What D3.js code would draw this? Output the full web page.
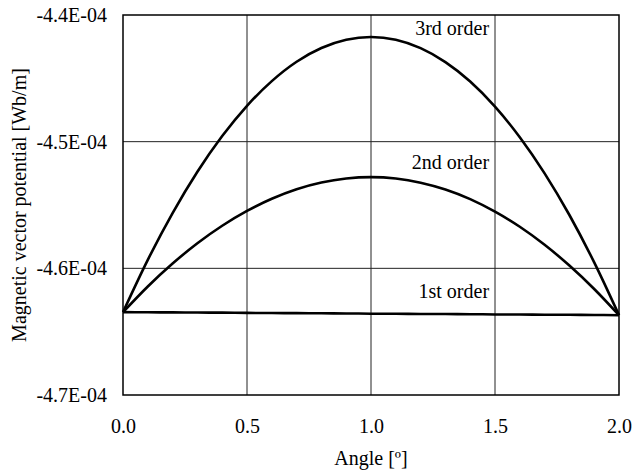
<!DOCTYPE html>
<html>
<head>
<meta charset="utf-8">
<script src="https://cdn.jsdelivr.net/npm/d3@7"></script>
<style>
  body { margin: 0; background: #fff; }
</style>
</head>
<body>
<svg id="svg" width="633" height="472"></svg>
<script>
const WIDTH = 633
const HEIGHT = 472
const MARGIN = { top: 15, right: 14, bottom: 77, left: 123 }
const FONT = 'Liberation Serif'

// angle [deg]
const angles = [0.0, 0.1, 0.2, 0.3, 0.4, 0.5, 0.6, 0.7, 0.8, 0.9, 1.0,
  1.1, 1.2, 1.3, 1.4, 1.5, 1.6, 1.7, 1.8, 1.9, 2.0]

// magnetic vector potential [Wb/m]
const first = [-4.6346e-4, -4.6347e-4, -4.6348e-4, -4.6349e-4, -4.6350e-4, -4.6352e-4, -4.6353e-4,
  -4.6354e-4, -4.6355e-4, -4.6356e-4, -4.6358e-4, -4.6359e-4, -4.6360e-4, -4.6361e-4, -4.6362e-4,
  -4.6364e-4, -4.6365e-4, -4.6366e-4, -4.6367e-4, -4.6368e-4, -4.6370e-4]
const second = [-4.6346e-4, -4.6143e-4, -4.5962e-4, -4.5802e-4, -4.5664e-4, -4.5547e-4, -4.5451e-4,
  -4.5376e-4, -4.5323e-4, -4.5291e-4, -4.5280e-4, -4.5291e-4, -4.5324e-4, -4.5378e-4, -4.5454e-4,
  -4.5553e-4, -4.5672e-4, -4.5814e-4, -4.5978e-4, -4.6163e-4, -4.6370e-4]
const third = [-4.6346e-4, -4.5933e-4, -4.5564e-4, -4.5238e-4, -4.4956e-4, -4.4717e-4, -4.4522e-4,
  -4.4369e-4, -4.4261e-4, -4.4196e-4, -4.4174e-4, -4.4196e-4, -4.4262e-4, -4.4372e-4, -4.4525e-4,
  -4.4723e-4, -4.4965e-4, -4.5250e-4, -4.5579e-4, -4.5953e-4, -4.6370e-4]

const seriesNames = ['1st order', '2nd order', '3rd order']
const seriesValues = [first, second, third]

const xTicks = [0, 0.5, 1.0, 1.5, 2.0]
const yTicks = [-4.7e-4, -4.6e-4, -4.5e-4, -4.4e-4]

const SVG = d3.select('#svg')

const x = d3.scaleLinear()
  .domain([0, 2])
  .range([MARGIN.left, WIDTH - MARGIN.right])

const y = d3.scaleLinear()
  .domain([-4.7e-4, -4.4e-4])
  .range([HEIGHT - MARGIN.bottom, MARGIN.top])

// e.g. -4.4E-04
const sciFormat = v => {
  const [m, e] = v.toExponential(1).toUpperCase().split('E')
  const sign = e[0] === '-' ? '-' : '+'
  const digits = e.replace(/[+-]/, '').padStart(2, '0')
  return `${m}E${sign}${digits}`
}

// grid
SVG.append('g')
  .selectAll('line')
  .data(yTicks.slice(1, -1))
  .enter()
  .append('line')
  .attr('x1', x(0))
  .attr('x2', x(2))
  .attr('y1', d => y(d))
  .attr('y2', d => y(d))
  .attr('stroke', '#222')
  .attr('stroke-width', 1)

SVG.append('g')
  .selectAll('line')
  .data(xTicks.slice(1, -1))
  .enter()
  .append('line')
  .attr('x1', d => x(d))
  .attr('x2', d => x(d))
  .attr('y1', y(-4.7e-4))
  .attr('y2', y(-4.4e-4))
  .attr('stroke', '#222')
  .attr('stroke-width', 1)

// axes with no tick marks
const xAxis = SVG.append('g')
  .attr('transform', `translate(0, ${HEIGHT - MARGIN.bottom})`)
  .call(d3.axisBottom(x).tickValues(xTicks).tickSize(0).tickPadding(24).tickFormat(d3.format('.1f')))
const yAxis = SVG.append('g')
  .attr('transform', `translate(${MARGIN.left}, 0)`)
  .call(d3.axisLeft(y).tickValues(yTicks).tickSize(0).tickPadding(16).tickFormat(sciFormat))

xAxis.select('.domain').remove()
yAxis.select('.domain').remove()
xAxis.attr('font-family', FONT).attr('font-size', 20)
yAxis.attr('font-family', FONT).attr('font-size', 20)
SVG.selectAll('.tick text')
  .attr('font-family', FONT)
  .attr('font-size', 20)
  .attr('fill', '#000')

// plot frame
SVG.append('rect')
  .attr('x', x(0))
  .attr('y', y(-4.4e-4))
  .attr('width', x(2) - x(0))
  .attr('height', y(-4.7e-4) - y(-4.4e-4))
  .attr('fill', 'none')
  .attr('stroke', '#000')
  .attr('stroke-width', 1.5)

// curves
const line = d3.line()
  .x((d, i) => x(angles[i]))
  .y(d => y(d))
  .curve(d3.curveMonotoneX)

SVG.append('g')
  .selectAll('path')
  .data(seriesValues)
  .enter()
  .append('path')
  .attr('d', line)
  .attr('fill', 'none')
  .attr('stroke', '#000')
  .attr('stroke-width', 2.6)

// series labels, just above each curve, right-aligned near x = 1.48
const labelY = [-4.6237e-4, -4.5215e-4, -4.4158e-4]
SVG.append('g')
  .selectAll('text')
  .data(seriesNames)
  .enter()
  .append('text')
  .text(d => d)
  .attr('x', x(1.476))
  .attr('y', (d, i) => y(labelY[i]))
  .attr('text-anchor', 'end')
  .attr('font-family', FONT)
  .attr('font-size', 20)

// axis titles
SVG.append('text')
  .text('Angle [º]')
  .attr('x', (x(0) + x(2)) / 2)
  .attr('y', 465)
  .attr('text-anchor', 'middle')
  .attr('font-family', FONT)
  .attr('font-size', 20)

SVG.append('text')
  .text('Magnetic vector potential [Wb/m]')
  .attr('transform', `translate(26, ${(y(-4.7e-4) + y(-4.4e-4)) / 2}) rotate(-90)`)
  .attr('text-anchor', 'middle')
  .attr('font-family', FONT)
  .attr('font-size', 20)
</script>
</body>
</html>
